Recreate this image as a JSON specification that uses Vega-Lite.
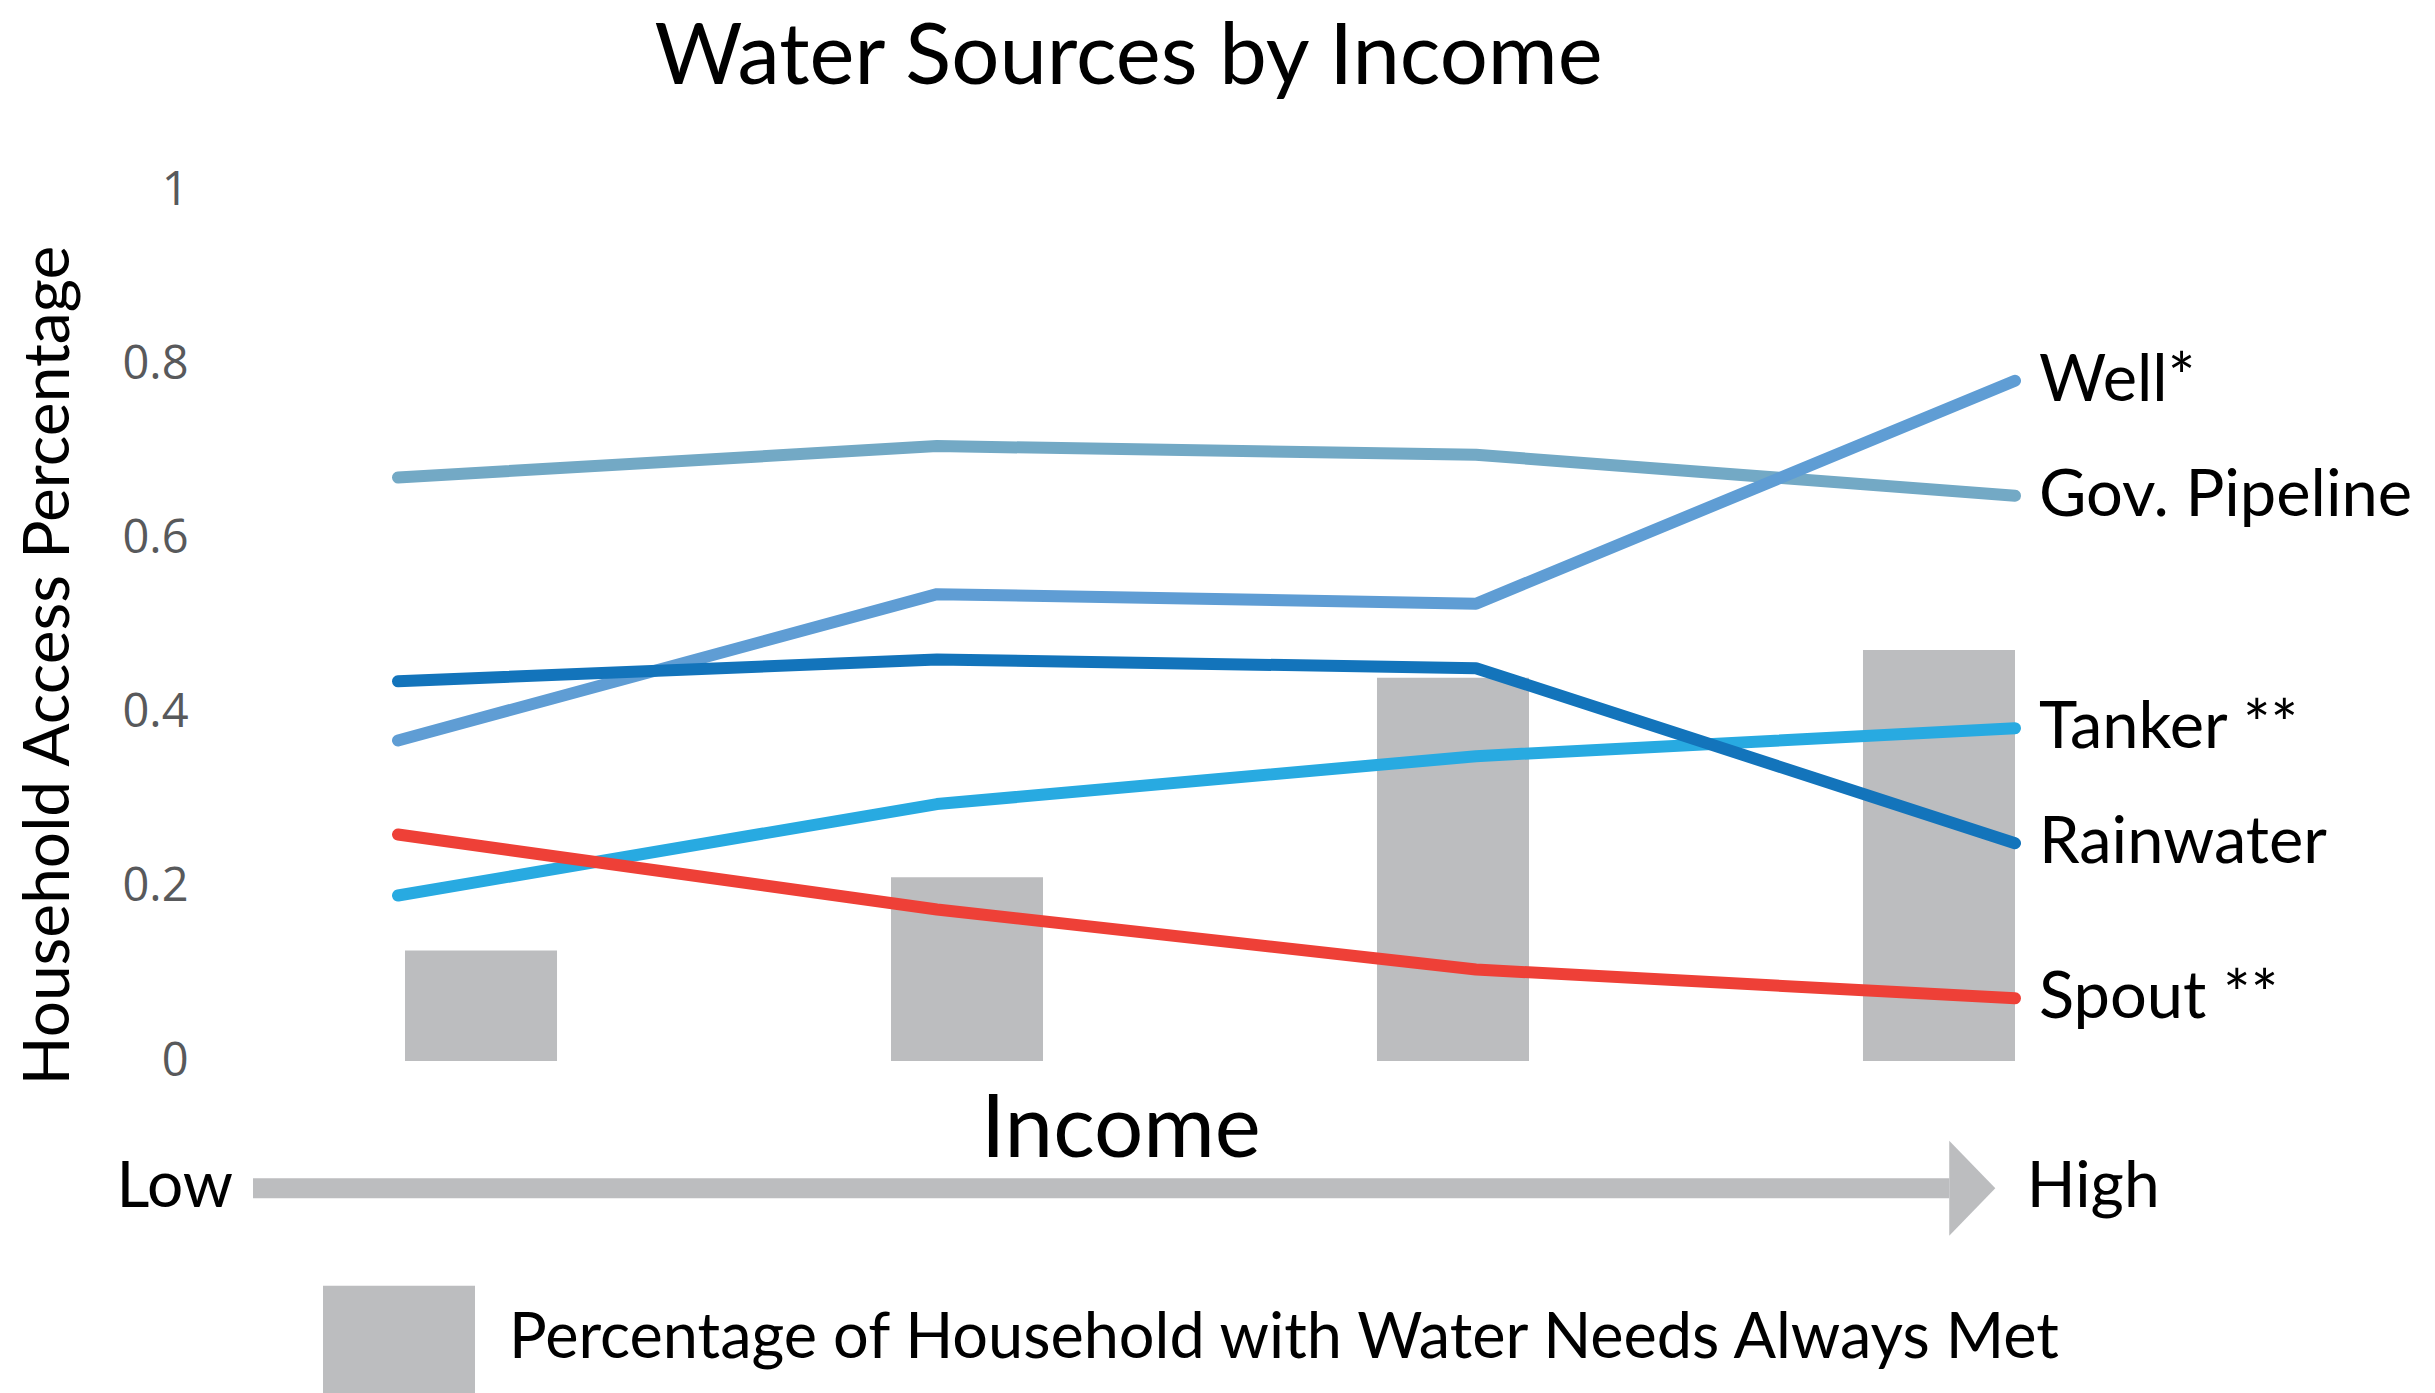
{
  "$schema": "https://vega.github.io/schema/vega-lite/v6.json",
  "autosize": "none",
  "padding": {"left": 398, "top": 190, "right": 420, "bottom": 332},
  "width": 1617,
  "height": 871,
  "background": "white",
  "config": {
    "view": {"stroke": null},
    "font": "Lato",
    "axisY": {
      "ticks": false,
      "domain": false,
      "grid": false,
      "labelFont": "Open Sans",
      "labelFontSize": 47,
      "labelColor": "#58595b",
      "labelPadding": 210,
      "labelFlush": false,
      "labelOverlap": false,
      "titleFont": "Lato",
      "titleFontSize": 64,
      "titleFontWeight": "normal",
      "titleColor": "black",
      "titleAngle": -90,
      "titleBaseline": "alphabetic",
      "titleX": -330,
      "titleY": 475
    }
  },
  "title": {
    "text": "Water Sources by Income",
    "font": "Lato",
    "fontSize": 85,
    "fontWeight": "normal",
    "color": "black",
    "anchor": "middle",
    "frame": "group",
    "dx": -78,
    "offset": -3,
    "baseline": "alphabetic"
  },
  "datasets": {
    "sources": [
      {"source": "Gov. Pipeline", "income": 1, "share": 0.670},
      {"source": "Gov. Pipeline", "income": 2, "share": 0.706},
      {"source": "Gov. Pipeline", "income": 3, "share": 0.696},
      {"source": "Gov. Pipeline", "income": 4, "share": 0.649},
      {"source": "Tanker **", "income": 1, "share": 0.190},
      {"source": "Tanker **", "income": 2, "share": 0.295},
      {"source": "Tanker **", "income": 3, "share": 0.350},
      {"source": "Tanker **", "income": 4, "share": 0.382},
      {"source": "Well*", "income": 1, "share": 0.368},
      {"source": "Well*", "income": 2, "share": 0.536},
      {"source": "Well*", "income": 3, "share": 0.525},
      {"source": "Well*", "income": 4, "share": 0.781},
      {"source": "Rainwater", "income": 1, "share": 0.436},
      {"source": "Rainwater", "income": 2, "share": 0.461},
      {"source": "Rainwater", "income": 3, "share": 0.451},
      {"source": "Rainwater", "income": 4, "share": 0.250},
      {"source": "Spout **", "income": 1, "share": 0.260},
      {"source": "Spout **", "income": 2, "share": 0.174},
      {"source": "Spout **", "income": 3, "share": 0.105},
      {"source": "Spout **", "income": 4, "share": 0.072}
    ],
    "met": [
      {"income": 1, "always_met": 0.127, "measure": "Percentage of Household with Water Needs Always Met"},
      {"income": 2, "always_met": 0.211, "measure": "Percentage of Household with Water Needs Always Met"},
      {"income": 3, "always_met": 0.440, "measure": "Percentage of Household with Water Needs Always Met"},
      {"income": 4, "always_met": 0.472, "measure": "Percentage of Household with Water Needs Always Met"}
    ],
    "low": [{"label": "Low"}],
    "high": [{"label": "High"}],
    "axisname": [{"label": "Income"}],
    "arrow": [{"label": "income direction"}]
  },
  "layer": [
    {
      "data": {"name": "met"},
      "mark": {"type": "bar"},
      "encoding": {
        "x": {"field": "income", "type": "ordinal", "axis": null,
              "scale": {"type": "band", "paddingInner": 0.6872, "paddingOuter": 0.0072, "align": 1, "round": false}},
        "y": {"field": "always_met", "type": "quantitative", "title": "Household Access Percentage",
              "axis": {"values": [0, 0.2, 0.4, 0.6, 0.8, 1], "format": ".1~f"},
              "scale": {"domain": [0, 1], "nice": false, "zero": true}},
        "color": {
          "field": "measure", "type": "nominal",
          "scale": {"range": ["#bcbdbf"]},
          "legend": {
            "title": null,
            "orient": "none",
            "legendX": -75,
            "legendY": 1073,
            "padding": 0,
            "symbolType": "M-1,-0.7H1V1.6H-1Z",
            "symbolSize": 23104,
            "symbolStrokeWidth": 0,
            "symbolOpacity": 1,
            "labelFont": "Lato",
            "labelFontSize": 63,
            "labelColor": "black",
            "labelOffset": 34,
            "labelLimit": 3000
          }
        }
      }
    },
    {
      "layer": [
        {
          "data": {"name": "sources"},
          "mark": {"type": "line", "strokeWidth": 12, "strokeCap": "round", "strokeJoin": "round"},
          "encoding": {
            "x": {"field": "income", "type": "quantitative", "axis": null,
                  "scale": {"domain": [1, 4], "nice": false, "zero": false}},
            "y": {"field": "share", "type": "quantitative", "title": "Household Access Percentage",
                  "scale": {"domain": [0, 1], "nice": false, "zero": true}},
            "color": {
              "field": "source", "type": "nominal", "legend": null,
              "scale": {
                "domain": ["Gov. Pipeline", "Tanker **", "Well*", "Rainwater", "Spout **"],
                "range": ["#73a9c5", "#28aae1", "#5f9dd4", "#1374bb", "#ee4037"]
              }
            },
            "order": {"field": "income", "type": "quantitative"}
          }
        },
        {
          "data": {"name": "sources"},
          "transform": [{"filter": "datum.income == 4"}],
          "mark": {"type": "text", "align": "left", "baseline": "middle", "dx": 24, "font": "Lato", "fontSize": 65, "color": "black"},
          "encoding": {
            "x": {"field": "income", "type": "quantitative", "axis": null,
                  "scale": {"domain": [1, 4], "nice": false, "zero": false}},
            "y": {"field": "share", "type": "quantitative", "title": "Household Access Percentage",
                  "scale": {"domain": [0, 1], "nice": false, "zero": true}},
            "text": {"field": "source"}
          }
        },
        {
          "data": {"name": "arrow"},
          "mark": {"type": "rule", "strokeWidth": 20, "color": "#bcbdbf", "strokeCap": "butt"},
          "encoding": {
            "x": {"datum": 0.731, "type": "quantitative", "axis": null,
                  "scale": {"domain": [1, 4], "nice": false, "zero": false}},
            "x2": {"datum": 3.878},
            "y": {"datum": -0.146, "type": "quantitative", "title": "Household Access Percentage",
                  "scale": {"domain": [0, 1], "nice": false, "zero": true}}
          }
        },
        {
          "data": {"name": "arrow"},
          "mark": {"type": "point", "shape": "M0,-1L0.97,0L0,1Z", "size": 9025, "filled": true, "opacity": 1, "color": "#bcbdbf", "strokeWidth": 0},
          "encoding": {
            "x": {"datum": 3.878, "type": "quantitative", "axis": null,
                  "scale": {"domain": [1, 4], "nice": false, "zero": false}},
            "y": {"datum": -0.146, "type": "quantitative", "title": "Household Access Percentage",
                  "scale": {"domain": [0, 1], "nice": false, "zero": true}}
          }
        },
        {
          "data": {"name": "low"},
          "mark": {"type": "text", "align": "right", "baseline": "middle", "font": "Lato", "fontSize": 64, "color": "black"},
          "encoding": {
            "x": {"datum": 0.694, "type": "quantitative", "axis": null,
                  "scale": {"domain": [1, 4], "nice": false, "zero": false}},
            "y": {"datum": -0.146, "type": "quantitative", "title": "Household Access Percentage",
                  "scale": {"domain": [0, 1], "nice": false, "zero": true}},
            "text": {"field": "label"}
          }
        },
        {
          "data": {"name": "high"},
          "mark": {"type": "text", "align": "left", "baseline": "middle", "font": "Lato", "fontSize": 64, "color": "black"},
          "encoding": {
            "x": {"datum": 4.022, "type": "quantitative", "axis": null,
                  "scale": {"domain": [1, 4], "nice": false, "zero": false}},
            "y": {"datum": -0.146, "type": "quantitative", "title": "Household Access Percentage",
                  "scale": {"domain": [0, 1], "nice": false, "zero": true}},
            "text": {"field": "label"}
          }
        },
        {
          "data": {"name": "axisname"},
          "mark": {"type": "text", "align": "center", "baseline": "middle", "font": "Lato", "fontSize": 87, "color": "black"},
          "encoding": {
            "x": {"datum": 2.341, "type": "quantitative", "axis": null,
                  "scale": {"domain": [1, 4], "nice": false, "zero": false}},
            "y": {"datum": -0.08, "type": "quantitative", "title": "Household Access Percentage",
                  "scale": {"domain": [0, 1], "nice": false, "zero": true}},
            "text": {"field": "label"}
          }
        }
      ]
    }
  ],
  "resolve": {"scale": {"x": "independent", "color": "independent"}}
}
